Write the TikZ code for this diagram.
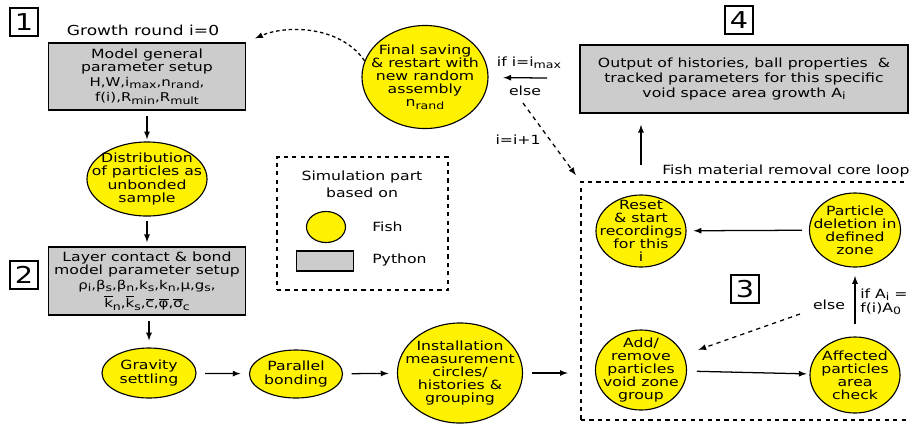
\documentclass[tikz,border=0pt]{standalone}
\usepackage{fontspec}
\setmainfont{DejaVu Sans}[FakeStretch=1.24]
\usetikzlibrary{positioning}
\usetikzlibrary{arrows}
\usetikzlibrary{shapes.geometric}

\newcommand{\ovl}[1]{$\overline{\hbox{#1}}$}
\newcommand{\lo}[1]{\raisebox{-0.35ex}{\fontsize{7.2}{8}\selectfont #1}}
\newcommand{\parsize}{\fontsize{8.6}{9}\selectfont}

\tikzset{
  fish/.style={ellipse, draw, fill=yellow, line width=0.8pt, inner sep=0pt},
  python/.style={rectangle, draw, fill=black!20, line width=0.8pt, inner sep=0pt, align=center},
  ftxt/.style={align=center, inner sep=0pt, font=\fontsize{9}{9.3}\selectfont},
  numbox/.style={draw, line width=0.8pt, minimum size=0.7cm, inner sep=0pt, font=\fontsize{16.5}{16.5}\selectfont},
  flow/.style={-latex, line width=0.9pt},
  back/.style={-latex, line width=0.9pt, dashed},
}

\begin{document}
\begin{tikzpicture}[x=0.025cm, y=-0.025cm]
\useasboundingbox (0,0) rectangle (909,424);

%% step numbers
\node[numbox] (n1) at (24,22) {1};
\node[numbox] (n2) at (24,275) {2};
\node[numbox] (n3) at (745,289) {3};
\node[numbox] (n4) at (739,20) {4};

%% left column
\node[ftxt, font=\fontsize{9.8}{10}\selectfont] (round) at (143,30) {Growth round i=0};
\node[python, minimum width=4.925cm, minimum height=1.675cm, font=\fontsize{9}{9.3}\selectfont] (model) at (147,76.5)
  {Model general\\parameter setup\\[1.5pt]{\parsize H,W,i\lo{max},n\lo{rand},}\\[1.5pt]{\parsize f(i),R\lo{min},R\lo{mult}}};
\node[fish, minimum width=3cm, minimum height=1.85cm,
  label={[ftxt]center:{Distribution\\of particles as\\unbonded\\sample}}] (dist) at (147,179) {};
\node[python, minimum width=4.925cm, minimum height=1.7cm, font=\fontsize{9}{9.3}\selectfont] (layer) at (147,281)
  {Layer contact \& bond\\model parameter setup\\[1.5pt]{\parsize ρ\lo{i},β\lo{s},β\lo{n},k\lo{s},k\lo{n},μ,g\lo{s},}\\[1.5pt]{\parsize \ovl{k}\lo{n},\ovl{k}\lo{s},\ovl{c},\ovl{φ},\ovl{σ}\lo{c}}};

%% bottom row
\node[fish, minimum width=2.35cm, minimum height=1.25cm,
  label={[ftxt]center:{Gravity\\settling}}] (grav) at (149,373) {};
\node[fish, minimum width=2.325cm, minimum height=1.2cm,
  label={[ftxt]center:{Parallel\\bonding}}] (par) at (296,374) {};
\node[fish, minimum width=3.125cm, minimum height=2.5cm,
  label={[ftxt]center:{Installation\\measurement\\circles/\\histories \&\\grouping}}] (inst) at (460,373) {};

%% restart
\node[fish, minimum width=3.15cm, minimum height=2.575cm,
  label={[ftxt]center:{Final saving\\\& restart with\\new random\\assembly\\n\lo{rand}}}] (final) at (425,77) {};
\node[ftxt] (ifmax) at (529,63) {if i=i\lo{max}};
\node[ftxt] (elseA) at (525,91) {else};
\node[ftxt] (incr) at (518,140) {i=i+1};
\coordinate (ifstart) at (547,78);
\coordinate (elsestart) at (523,103);

%% legend
\node[draw, dashed, line width=0.8pt, minimum width=4.275cm, minimum height=3.325cm] (legend) at (362.5,223.5) {};
\node[align=center, inner sep=0pt, font=\fontsize{9}{12}\selectfont] (legtitle) at (362,184) {Simulation part\\based on};
\node[fish, minimum width=0.975cm, minimum height=0.775cm] (legfish) at (326,227) {};
\node[python, minimum width=1.425cm, minimum height=0.5cm] (legpy) at (325,261) {};
\node[ftxt, anchor=west] (legfishtxt) at (372,227) {Fish};
\node[ftxt, anchor=west] (legpytxt) at (372,260) {Python};

%% output
\node[python, minimum width=8.2cm, minimum height=1.7cm, font=\fontsize{9}{10.7}\selectfont] (output) at (744,79)
  {Output of histories, ball properties \ \&\\tracked parameters for this specific\\void space area growth A\lo{i}};

%% core loop
\node[draw, dashed, line width=0.8pt, minimum width=8.975cm, minimum height=5.95cm] (loop) at (760.5,301) {};
\node[ftxt, anchor=west] (looptitle) at (662,171) {Fish material removal core loop};
\node[fish, minimum width=2.25cm, minimum height=1.8cm,
  label={[ftxt]center:{Reset\\\& start\\recordings\\for this\\i}}] (reset) at (641,231) {};
\node[fish, minimum width=2.275cm, minimum height=1.85cm,
  label={[ftxt]center:{Particle\\deletion in\\defined\\zone}}] (del) at (855,230) {};
\node[fish, minimum width=2.275cm, minimum height=2cm,
  label={[ftxt]center:{Add/\\remove\\particles\\void zone\\group}}] (add) at (641,370) {};
\node[fish, minimum width=2.25cm, minimum height=1.9cm,
  label={[ftxt]center:{Affected\\particles\\area\\check}}] (aff) at (855,375) {};
\node[align=left, anchor=west, inner sep=0pt, font=\fontsize{9}{10}\selectfont] (cond) at (860,302) {if A\lo{i} =\\f(i)A\lo{0}};
\node[ftxt] (elseB) at (829,305) {else};
\coordinate (elsefrom) at (800,314);

% arrows
\draw[flow, shorten <=3.5pt, shorten >=1.5pt] (model) -- (dist);
\draw[flow, shorten <=3pt, shorten >=3pt] (dist) -- (layer);
\draw[flow, shorten <=3.5pt, shorten >=5pt] (layer.south -| grav) -- (grav);
\draw[flow, shorten <=6pt, shorten >=6pt] (grav) -- (par);
\draw[flow, shorten <=6pt, shorten >=6pt] (par) -- (inst);
\draw[flow, shorten <=6pt, shorten >=9pt] (inst) -- (inst -| loop.west);
\draw[flow, shorten <=5pt, shorten >=5pt] (del) -- (reset);
\draw[flow, shorten <=7pt, shorten >=2pt] (add) -- (aff);
\draw[flow, shorten <=8.5pt, shorten >=6pt] (aff.north -| cond.west) ++(-5,0) coordinate (affup) -- (affup |- del.south);
\draw[back, shorten >=11pt] (elsefrom) -- (add);
\draw[flow, shorten <=11.5pt, shorten >=8pt] (loop.north -| reset) -- (output.south -| reset);
\draw[flow, shorten >=10.5pt] (ifstart) -- (final);
\draw[back, shorten >=5.5pt] (elsestart) -- (loop.north west);
\draw[back, dash pattern=on 2.5pt off 2pt, shorten >=7pt] (final.165) .. controls (340,25) and (285,25) .. (model.north east);
\end{tikzpicture}
\end{document}
